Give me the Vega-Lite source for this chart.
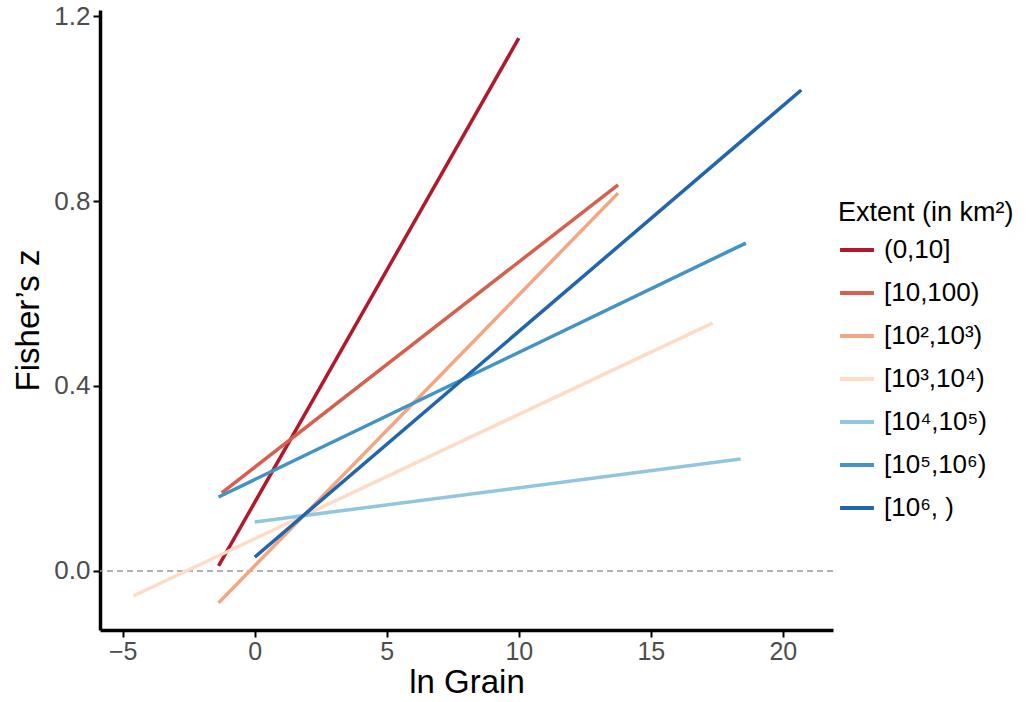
{
  "$schema": "https://vega.github.io/schema/vega-lite/v6.json",
  "autosize": "none",
  "width": 733,
  "height": 620,
  "padding": {"left": 100, "top": 10, "right": 201, "bottom": 72},
  "background": "white",
  "config": {
    "font": "Liberation Sans",
    "view": {"stroke": null},
    "axis": {"grid": false}
  },
  "data": {
    "values": [
      {"extent": "(0,10]", "grain": -1.37, "z": 0.011},
      {"extent": "(0,10]", "grain": 10.0, "z": 1.152},
      {"extent": "[10,100)", "grain": -1.25, "z": 0.169},
      {"extent": "[10,100)", "grain": 13.76, "z": 0.835},
      {"extent": "[10²,10³)", "grain": -1.37, "z": -0.069},
      {"extent": "[10²,10³)", "grain": 13.76, "z": 0.817},
      {"extent": "[10³,10⁴)", "grain": -4.6, "z": -0.054},
      {"extent": "[10³,10⁴)", "grain": 17.34, "z": 0.536},
      {"extent": "[10⁴,10⁵)", "grain": 0.0, "z": 0.106},
      {"extent": "[10⁴,10⁵)", "grain": 18.4, "z": 0.242},
      {"extent": "[10⁵,10⁶)", "grain": -1.37, "z": 0.16},
      {"extent": "[10⁵,10⁶)", "grain": 18.6, "z": 0.709},
      {"extent": "[10⁶, )", "grain": 0.0, "z": 0.03},
      {"extent": "[10⁶, )", "grain": 20.7, "z": 1.04}
    ]
  },
  "layer": [
    {
      "data": {"values": [{"zero": 0}]},
      "mark": {"type": "rule", "stroke": "#999999", "strokeWidth": 1.5, "strokeDash": [6, 4]},
      "encoding": {"y": {"field": "zero", "type": "quantitative"}}
    },
    {
      "mark": {"type": "line", "strokeWidth": 3.5, "clip": true},
      "encoding": {
        "x": {
          "field": "grain", "type": "quantitative",
          "scale": {"domain": [-5.86, 21.9], "nice": false, "zero": false},
          "axis": {
            "title": "ln Grain", "values": [-5, 0, 5, 10, 15, 20], "format": "d",
            "domainColor": "black", "domainWidth": 3.5, "tickColor": "black", "tickWidth": 2, "tickSize": 7,
            "labelFontSize": 25, "labelColor": "#4d4d4d", "labelPadding": 2,
            "titleFontSize": 33, "titleFontWeight": "normal", "titleColor": "black", "titlePadding": 2
          }
        },
        "y": {
          "field": "z", "type": "quantitative",
          "scale": {"domain": [-0.1276, 1.213], "nice": false, "zero": false},
          "axis": {
            "title": "Fisher’s z", "values": [0, 0.4, 0.8, 1.2], "format": ".1f",
            "domainColor": "black", "domainWidth": 3.5, "tickColor": "black", "tickWidth": 2, "tickSize": 7,
            "labelFontSize": 26, "labelColor": "#4d4d4d", "labelPadding": 3,
            "titleFontSize": 33, "titleFontWeight": "normal", "titleColor": "black", "titlePadding": 8
          }
        },
        "color": {
          "field": "extent", "type": "nominal",
          "sort": ["(0,10]", "[10,100)", "[10²,10³)", "[10³,10⁴)", "[10⁴,10⁵)", "[10⁵,10⁶)", "[10⁶, )"],
          "scale": {
            "domain": ["(0,10]", "[10,100)", "[10²,10³)", "[10³,10⁴)", "[10⁴,10⁵)", "[10⁵,10⁶)", "[10⁶, )"],
            "range": ["#b2182b", "#d6604d", "#f4a582", "#fddbc7", "#92c5de", "#4393c3", "#2166ac"]
          },
          "legend": {
            "title": "Extent (in km²)",
            "orient": "none", "legendX": 738, "legendY": 190,
            "titleFontSize": 27, "titleFontWeight": "normal", "titleColor": "black", "titlePadding": 4, "titleLimit": 300,
            "labelFontSize": 26, "labelColor": "black", "labelOffset": 8,
            "symbolType": "stroke", "symbolSize": 1150, "symbolStrokeWidth": 4,
            "rowPadding": 11
          }
        }
      }
    }
  ]
}
